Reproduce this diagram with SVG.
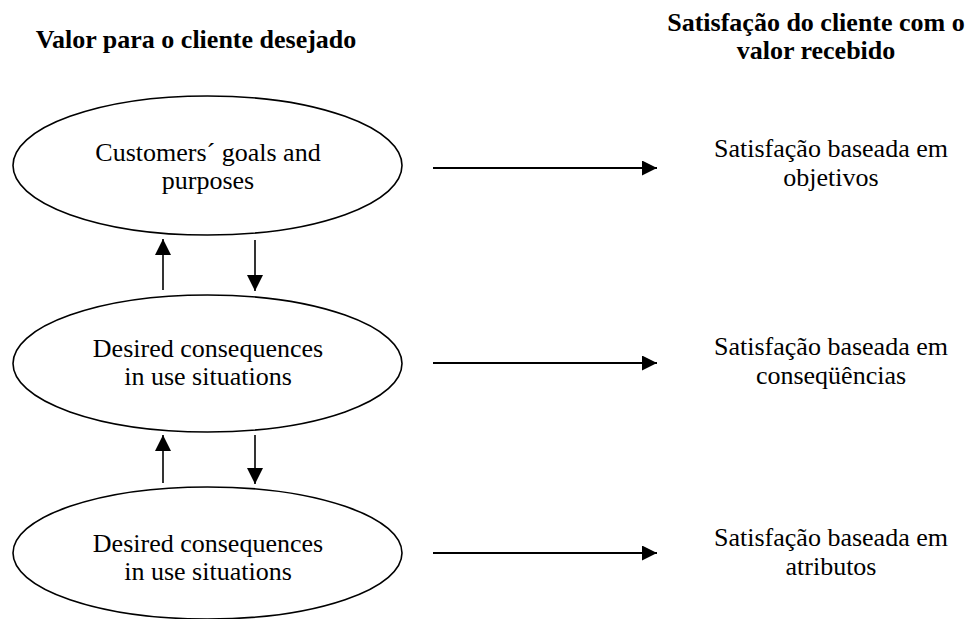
<svg xmlns="http://www.w3.org/2000/svg" width="975" height="619" viewBox="0 0 975 619">
  <defs>
    <style>
      .bg { fill: #ffffff; }
      text { font-family: 'Liberation Serif', 'DejaVu Serif', serif; fill: #000; text-anchor: middle; }
      .title { font-size: 26px; font-weight: bold; }
      .label { font-size: 26px; }
      .node { fill: #ffffff; stroke: #000; stroke-width: 1.6; }
      .link-h { stroke: #000; stroke-width: 2; fill: none; }
      .link-v { stroke: #000; stroke-width: 1.6; fill: none; }
    </style>
    <marker id="headH" viewBox="0 0 10 10" refX="10" refY="5" markerUnits="userSpaceOnUse" markerWidth="15" markerHeight="15" orient="auto">
      <path d="M0,0 L10,5 L0,10 Z" fill="#000"/>
    </marker>
    <marker id="headV" viewBox="0 0 10 10" refX="10" refY="5" markerUnits="userSpaceOnUse" markerWidth="16" markerHeight="16" orient="auto">
      <path d="M0,0 L10,5 L0,10 Z" fill="#000"/>
    </marker>
  </defs>

  <rect class="bg" x="0" y="0" width="975" height="619"/>

  <!-- column headings -->
  <g id="heading-left">
    <text class="title" x="196" y="48">Valor para o cliente desejado</text>
  </g>
  <g id="heading-right">
    <text class="title" x="816" y="31">Satisfação do cliente com o</text>
    <text class="title" x="816" y="59">valor recebido</text>
  </g>

  <!-- value hierarchy (left column) -->
  <g id="goals">
    <ellipse class="node" cx="207.5" cy="165.5" rx="194.5" ry="69.5"/>
    <text class="label" x="208" y="161">Customers´ goals and</text>
    <text class="label" x="208" y="189">purposes</text>
  </g>
  <g id="consequences">
    <ellipse class="node" cx="207.5" cy="363.5" rx="194.5" ry="68.5"/>
    <text class="label" x="208" y="357">Desired consequences</text>
    <text class="label" x="208" y="385">in use situations</text>
  </g>
  <g id="attributes">
    <ellipse class="node" cx="207.5" cy="553" rx="194.5" ry="66"/>
    <text class="label" x="208" y="552">Desired consequences</text>
    <text class="label" x="208" y="580">in use situations</text>
  </g>

  <!-- satisfaction levels (right column) -->
  <g id="sat-goals">
    <text class="label" x="831" y="157">Satisfação baseada em</text>
    <text class="label" x="831" y="186">objetivos</text>
  </g>
  <g id="sat-consequences">
    <text class="label" x="831" y="355">Satisfação baseada em</text>
    <text class="label" x="831" y="384">conseqüências</text>
  </g>
  <g id="sat-attributes">
    <text class="label" x="831" y="546">Satisfação baseada em</text>
    <text class="label" x="831" y="575">atributos</text>
  </g>

  <!-- connectors -->
  <g id="connectors">
    <line class="link-h" x1="433" y1="168" x2="657" y2="168" marker-end="url(#headH)"/>
    <line class="link-h" x1="433" y1="363" x2="657" y2="363" marker-end="url(#headH)"/>
    <line class="link-h" x1="433" y1="553" x2="657" y2="553" marker-end="url(#headH)"/>

    <line class="link-v" x1="163" y1="290" x2="163" y2="239" marker-end="url(#headV)"/>
    <line class="link-v" x1="255" y1="240" x2="255" y2="291" marker-end="url(#headV)"/>
    <line class="link-v" x1="163" y1="483" x2="163" y2="435" marker-end="url(#headV)"/>
    <line class="link-v" x1="255" y1="435" x2="255" y2="484" marker-end="url(#headV)"/>
  </g>
</svg>
